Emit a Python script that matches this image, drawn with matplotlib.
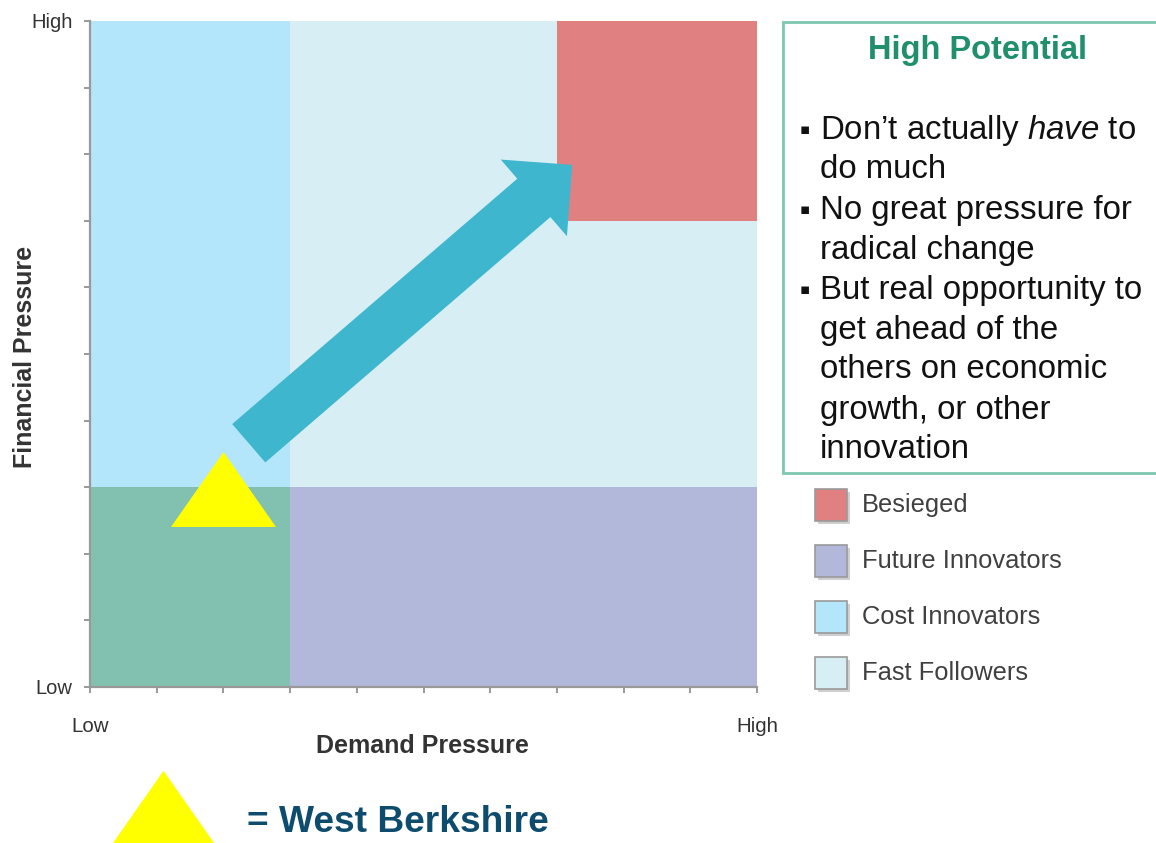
import matplotlib
matplotlib.use("Agg")
import matplotlib.pyplot as plt
from matplotlib.patches import Rectangle, FancyArrow
from matplotlib.lines import Line2D
from matplotlib.path import Path

plt.rcParams['font.family'] = ['Liberation Sans', 'DejaVu Sans']
plt.rcParams['mathtext.fontset'] = 'custom'
plt.rcParams['mathtext.rm'] = 'Liberation Sans'
plt.rcParams['mathtext.it'] = 'Liberation Sans:italic'

# ---- data ----
zone_names = ["Fast Followers", "Cost Innovators", "Future Innovators", "Besieged", "Low Pressure"]
zone_x0 = [3, 0, 3, 7, 0]
zone_x1 = [10, 3, 10, 10, 3]
zone_y0 = [3, 3, 0, 7, 0]
zone_y1 = [10, 10, 3, 10, 3]
zone_colors = ["#D8EEF5", "#B3E6FB", "#B2B8D9", "#E08080", "#82C1B0"]

legend_labels = ["Besieged", "Future Innovators", "Cost Innovators", "Fast Followers"]
legend_colors = ["#E08080", "#B2B8D9", "#B3E6FB", "#D8EEF5"]

x_ticks = list(range(0, 11))
x_tick_labels = ["Low"] + [""] * 9 + ["High"]
y_ticks = list(range(0, 11))
y_tick_labels = ["Low"] + [""] * 9 + ["High"]

wb_x, wb_y = 2.0, 2.97          # West Berkshire position
arrow_start = (2.38, 3.66)
arrow_end = (7.23, 7.84)

box_title = "High Potential"
box_lines = [
    ("\u25aa", r"Don’t actually $\mathit{have}$ to"),
    ("", "do much"),
    ("\u25aa", "No great pressure for"),
    ("", "radical change"),
    ("\u25aa", "But real opportunity to"),
    ("", "get ahead of the"),
    ("", "others on economic"),
    ("", "growth, or other"),
    ("", "innovation"),
]

W, H = 1156, 843
fig = plt.figure(figsize=(W / 100, H / 100), dpi=100)
fig.patch.set_facecolor("white")
ax = fig.add_axes([90 / W, 156 / H, 667 / W, 666 / H])
ax.set_xlim(0, 10)
ax.set_ylim(0, 10)

for name, x0, x1, y0, y1, c in zip(zone_names, zone_x0, zone_x1, zone_y0, zone_y1, zone_colors):
    ax.bar(x0, y1 - y0, width=x1 - x0, bottom=y0, align="edge", color=c, linewidth=0, zorder=1)

# arrow
dx = arrow_end[0] - arrow_start[0]
dy = arrow_end[1] - arrow_start[1]
ax.add_patch(FancyArrow(arrow_start[0], arrow_start[1], dx, dy, width=0.76,
                        head_width=1.52, head_length=0.76, length_includes_head=True,
                        color="#3EB6CE", linewidth=0, zorder=3))

# West Berkshire triangle marker
tri = Path([(-1, -0.714), (1, -0.714), (0, 0.714), (-1, -0.714)],
           [Path.MOVETO, Path.LINETO, Path.LINETO, Path.CLOSEPOLY])
ax.plot([wb_x], [wb_y], marker=tri, markersize=75.6, color="#FFFF00",
        markeredgewidth=0, linestyle="none", zorder=4, clip_on=False)

# axes styling
for s in ["top", "right"]:
    ax.spines[s].set_visible(False)
for s in ["left", "bottom"]:
    ax.spines[s].set_color("#999999")
    ax.spines[s].set_linewidth(1.6)
ax.set_xticks(x_ticks)
ax.set_xticklabels(x_tick_labels)
ax.set_yticks(y_ticks)
ax.set_yticklabels(y_tick_labels)
ax.tick_params(axis="x", direction="out", length=4.5, width=1.4, color="#999999",
               labelsize=14.8, labelcolor="#333333", pad=17)
ax.tick_params(axis="y", direction="out", length=4.5, width=1.4, color="#999999",
               labelsize=14.5, labelcolor="#333333", pad=8)
ax.set_axisbelow(False)

fig.text(25 / W, 1 - 357 / H, "Financial Pressure", rotation=90, ha="center", va="center",
         fontsize=18, fontweight="bold", color="#333333")
fig.text(422 / W, 1 - 746 / H, "Demand Pressure", ha="center", va="center",
         fontsize=18, fontweight="bold", color="#333333")

# text box
fig.add_artist(Rectangle((783 / W, 1 - 473 / H), (1175 - 783) / W, (473 - 22) / H,
                         transform=fig.transFigure, facecolor="white",
                         edgecolor="#7DC6B0", linewidth=2.0))
fig.text(978 / W, 1 - 51 / H, box_title, ha="center", va="center", fontsize=23.5,
         fontweight="bold", color="#1F8F6E")
for i, (bullet, line) in enumerate(box_lines):
    yc = 1 - (130 + 40 * i) / H
    if bullet:
        fig.text(805 / W, yc, bullet, ha="center", va="center", fontsize=11,
                 color="#111111", family=["DejaVu Sans"])
    fig.text(820 / W, yc, line, ha="left", va="center", fontsize=23.8, color="#111111")

# legend
for i, (lab, c) in enumerate(zip(legend_labels, legend_colors)):
    yc = 505 + 56 * i
    fig.add_artist(Rectangle((818 / W, 1 - (yc + 19) / H), 32 / W, 32 / H,
                             transform=fig.transFigure, facecolor="#B0B0B0",
                             edgecolor="none", alpha=0.6))
    fig.add_artist(Rectangle((815 / W, 1 - (yc + 16) / H), 32 / W, 32 / H,
                             transform=fig.transFigure, facecolor=c,
                             edgecolor="#9A9A9A", linewidth=1.2))
    fig.text(862 / W, 1 - yc / H, lab, ha="left", va="center", fontsize=18.4, color="#404040")

# bottom key
fig.add_artist(Line2D([162.7 / W], [1 - 806.5 / H], transform=fig.transFigure,
                      marker=tri, markersize=74, color="#FFFF00", markeredgewidth=0,
                      linestyle="none"))
fig.text(247 / W, 1 - 822 / H, "= West Berkshire", ha="left", va="center", fontsize=26.7,
         fontweight="bold", color="#0E4C6E")

fig.savefig("out.png", dpi=100)
